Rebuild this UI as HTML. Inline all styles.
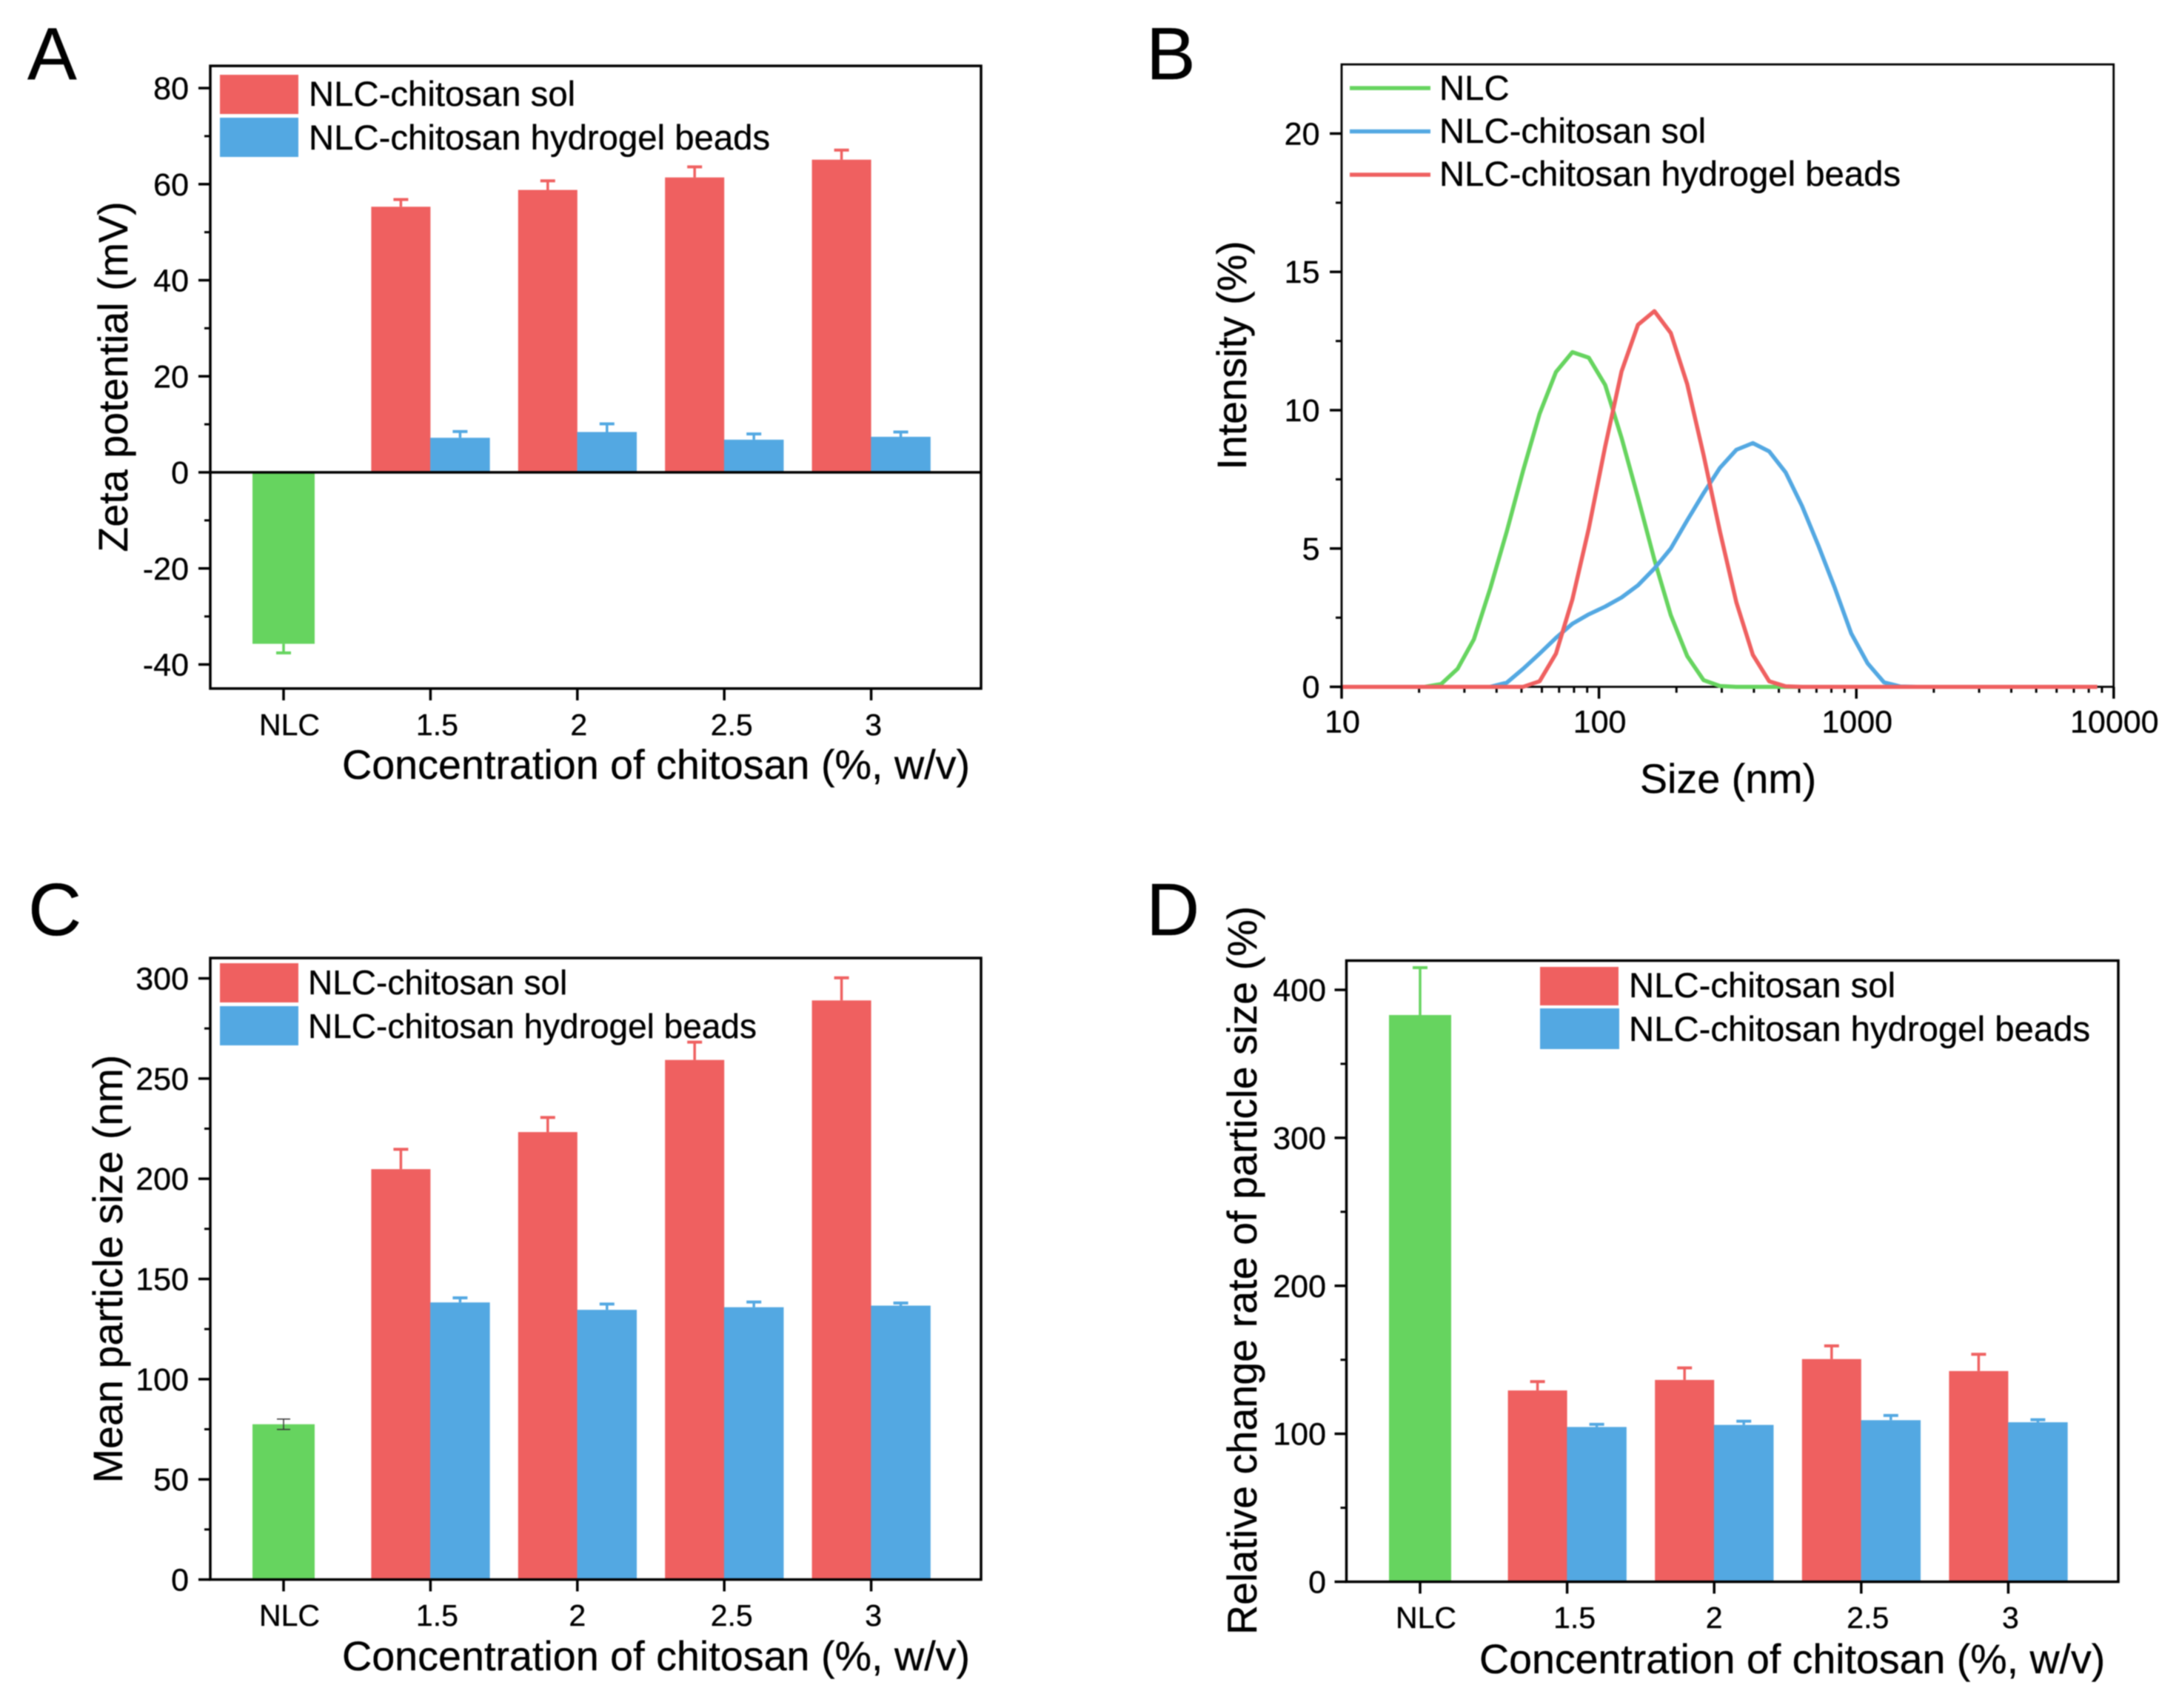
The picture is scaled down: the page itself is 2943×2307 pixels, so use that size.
<!DOCTYPE html>
<html lang="en">
<head>
<meta charset="utf-8">
<title>NLC-chitosan particle characterisation</title>
<style>
html,body{margin:0;padding:0;background:#fff;}
svg{display:block;filter:blur(0.7px);}
text{font-family:"Liberation Sans",Arial,sans-serif;fill:#000;stroke:#000;stroke-width:0.35px;}
.tt{font-size:55.7px;}
.lg{font-size:47.3px;}
.lg2{font-size:47.3px;}
.lg3{font-size:46px;}
.pl{font-size:100px;}
</style>
</head>
<body>
<svg id="fig" xmlns="http://www.w3.org/2000/svg" width="2943" height="2307" viewBox="0 0 2943 2307">
  <rect x="0" y="0" width="2943" height="2307" fill="#fff"/>

  <g id="panel-a">
    <text class="pl" x="37" y="107">A</text>
    <g id="a-marks"></g>
    <rect x="284" y="89" width="1041" height="841" fill="none" stroke="#000" stroke-width="3.5"/>
    <g id="a-axes"></g>
    <text class="tt" text-anchor="middle" transform="translate(172,509) rotate(-90)">Zeta potential (mV)</text>
    <text class="tt" x="462" y="1052">Concentration of chitosan (%, w/v)</text>
    <g>
      <rect x="297" y="101" width="106" height="53" fill="#ef6060"/>
      <rect x="297" y="159" width="106" height="53" fill="#53a8e2"/>
      <text class="lg" x="417" y="143">NLC-chitosan sol</text>
      <text class="lg" x="417" y="202">NLC-chitosan hydrogel beads</text>
    </g>
  </g>

  <g id="panel-b">
    <text class="pl" x="1548" y="107">B</text>
    <rect x="1812" y="87" width="1042.7" height="840.7" fill="none" stroke="#000" stroke-width="2.8"/>
    <g id="b-axes"></g>
    <g id="b-marks"></g>
    <text class="tt" text-anchor="middle" transform="translate(1683,480) rotate(-90)">Intensity (%)</text>
    <text style="font-size:55.7px" text-anchor="middle" x="2334" y="1071">Size (nm)</text>
    <g>
      <line x1="1823" x2="1932" y1="119" y2="119" stroke="#66d45f" stroke-width="5.5"/>
      <line x1="1823" x2="1932" y1="177.5" y2="177.5" stroke="#53a8e2" stroke-width="5.5"/>
      <line x1="1823" x2="1932" y1="236" y2="236" stroke="#ef6060" stroke-width="5.5"/>
      <text class="lg2" x="1944" y="135">NLC</text>
      <text class="lg2" x="1944" y="193">NLC-chitosan sol</text>
      <text class="lg2" x="1944" y="251">NLC-chitosan hydrogel beads</text>
    </g>
  </g>

  <g id="panel-c">
    <text class="pl" x="38" y="1263">C</text>
    <g id="c-marks"></g>
    <rect x="284" y="1294" width="1041" height="839.5" fill="none" stroke="#000" stroke-width="3.5"/>
    <g id="c-axes"></g>
    <text class="tt" text-anchor="middle" transform="translate(165,1714) rotate(-90)">Mean particle size (nm)</text>
    <text class="tt" x="462" y="2256">Concentration of chitosan (%, w/v)</text>
    <g>
      <rect x="297" y="1301" width="106" height="53" fill="#ef6060"/>
      <rect x="297" y="1359" width="106" height="53" fill="#53a8e2"/>
      <text class="lg3" x="416" y="1343">NLC-chitosan sol</text>
      <text class="lg3" x="416" y="1402">NLC-chitosan hydrogel beads</text>
    </g>
  </g>

  <g id="panel-d">
    <text class="pl" x="1548" y="1263">D</text>
    <g id="d-marks"></g>
    <rect x="1818.5" y="1297.5" width="1042.5" height="839" fill="none" stroke="#000" stroke-width="3.5"/>
    <g id="d-axes"></g>
    <text class="tt" text-anchor="middle" transform="translate(1697,1716) rotate(-90)">Relative change rate of particle size (%)</text>
    <text style="font-size:55.5px" x="1998" y="2260">Concentration of chitosan (%, w/v)</text>
    <g>
      <rect x="2080" y="1306" width="106" height="52" fill="#ef6060"/>
      <rect x="2080" y="1362" width="107" height="55" fill="#53a8e2"/>
      <text class="lg2" x="2200" y="1347">NLC-chitosan sol</text>
      <text class="lg2" x="2200" y="1406">NLC-chitosan hydrogel beads</text>
    </g>
  </g>
</svg>

<script>
// ---- shared categories ----
var categories = ['NLC', '1.5', '2', '2.5', '3'];

// ---- panel A: zeta potential (mV) ----
var zetaNlc = [-35.7];
var zetaNlcErr = [1.9];
var zetaSol = [55.3, 58.8, 61.4, 65.1];
var zetaSolErr = [1.5, 1.9, 2.2, 2.0];
var zetaBeads = [7.2, 8.4, 6.8, 7.4];
var zetaBeadsErr = [1.3, 1.7, 1.2, 1.0];
var zetaTicks = [-40, -20, 0, 20, 40, 60, 80];
var zetaMinorTicks = [-30, -10, 10, 30, 50, 70];

// ---- panel B: size distribution (%) ----
var sizeBins = [10.1,11.7,13.54,15.69,18.17,21.04,24.36,28.21,32.67,37.84,43.82,50.75,58.77,68.06,78.82,91.28,105.7,122.4,141.8,164.2,190.1,220.2,255,295.3,342,396.1,458.7,531.2,615.1,712.4,825,955.4,1106,1281,1484,1718,1990,2305,2669,3091,3580,4145,4801,5560,6439,7456,8635];
var intensityNlc = [0,0,0,0,0,0,0.1,0.65,1.72,3.57,5.61,7.82,9.87,11.38,12.1,11.9,10.91,9.0,6.84,4.59,2.59,1.11,0.24,0.03,0,0,0,0,0,0,0,0,0,0,0,0,0,0,0,0,0,0,0,0,0,0,0];
var intensitySol = [0,0,0,0,0,0,0,0,0,0,0.15,0.65,1.2,1.77,2.28,2.62,2.9,3.23,3.67,4.28,5.0,6.02,7.0,7.92,8.57,8.81,8.51,7.75,6.54,5.1,3.57,1.93,0.85,0.16,0.01,0,0,0,0,0,0,0,0,0,0,0,0];
var intensityBeads = [0,0,0,0,0,0,0,0,0,0,0,0,0.2,1.2,3.16,5.72,8.69,11.4,13.09,13.58,12.79,10.94,8.38,5.6,3.05,1.16,0.2,0.02,0,0,0,0,0,0,0,0,0,0,0,0,0,0,0,0,0,0,0];
var intensityTicks = [0, 5, 10, 15, 20];
var intensityMinorTicks = [2.5, 7.5, 12.5, 17.5];
var sizeDecades = [10, 100, 1000, 10000];
var sizeMinorMultipliers = [2, 3, 4, 5, 6, 7, 8, 9];

// ---- panel C: mean particle size (nm) ----
var meanNlc = [77.5];
var meanNlcErr = [2.6];
var meanSol = [204.8, 223.3, 259.3, 289];
var meanSolErr = [9.9, 7.3, 8.9, 11.3];
var meanBeads = [138.3, 134.6, 135.9, 136.7];
var meanBeadsErr = [2.3, 2.9, 2.6, 1.3];
var meanTicks = [0, 50, 100, 150, 200, 250, 300];
var meanMinorTicks = [25, 75, 125, 175, 225, 275];

// ---- panel D: relative change rate (%) ----
var rateNlc = [383];
var rateNlcErr = [32];
var rateSol = [129.3, 136.4, 150.5, 142.4];
var rateSolErr = [6, 8.1, 8.9, 11.3];
var rateBeads = [104.6, 106, 109.2, 107.8];
var rateBeadsErr = [1.8, 2.5, 3.2, 1.7];
var rateTicks = [0, 100, 200, 300, 400];
var rateMinorTicks = [50, 150, 250, 350];

var RED = '#ef6060', BLUE = '#53a8e2', GREEN = '#66d45f';
var NS = 'http://www.w3.org/2000/svg';

function rect(parent, name, x, y, w, h, fill) {
  var el = document.createElementNS(NS, 'rect');
  
  
  el.setAttribute('x', x);
  el.setAttribute('y', y);
  el.setAttribute('width', w);
  el.setAttribute('height', h);
  el.setAttribute('fill', fill);
  parent.appendChild(el);
  return el;
}
function line(parent, name, x1, y1, x2, y2, stroke, sw) {
  var el = document.createElementNS(NS, 'line');
  
  
  el.setAttribute('x1', x1);
  el.setAttribute('y1', y1);
  el.setAttribute('x2', x2);
  el.setAttribute('y2', y2);
  el.setAttribute('stroke', stroke);
  el.setAttribute('stroke-width', sw);
  parent.appendChild(el);
  return el;
}
function label(parent, name, x, y, str, anchor, size) {
  var el = document.createElementNS(NS, 'text');
  
  
  el.setAttribute('x', x);
  el.setAttribute('y', y);
  el.setAttribute('text-anchor', anchor);
  el.style.fontSize = size + 'px';
  el.textContent = str;
  parent.appendChild(el);
  return el;
}

// linear y axis function: maps value -> pixel using two reference pixels
function linearY(v0, p0, v1, p1) {
  return function (v) { return p0 + (v - v0) * (p1 - p0) / (v1 - v0); };
}

function yAxis(panel, group, yScale, axisX, labelRight, majors, minors) {
  majors.forEach(function (t) {
    var y = yScale(t);
    line(group, panel + '-y-tick', axisX - 16, y, axisX, y, '#000', 3.5);
    label(group, panel + '-y-tick-label', labelRight, y + 15, String(t), 'end', 43);
  });
  minors.forEach(function (t) {
    var y = yScale(t);
    line(group, panel + '-y-minor-tick', axisX - 8, y, axisX, y, '#000', 3);
  });
}

function errorBar(group, name, cx, yEnd, yBar, color, sw, capW, capSw) {
  line(group, name + '-stem', cx, yBar, cx, yEnd, color, sw);
  line(group, name + '-cap', cx - capW / 2, yEnd, cx + capW / 2, yEnd, color, capSw);
}

function barPanel(cfg) {
  var marks = document.getElementById(cfg.id + '-marks');
  var axes = document.getElementById(cfg.id + '-axes');
  var yScale = cfg.y;
  var base = yScale(0);
  function xCat(i) { return cfg.x0 + i * cfg.step; }

  function drawBar(name, cx, w, v, color) {
    var y = yScale(v);
    rect(marks, name, cx - w / 2, Math.min(y, base), w, Math.abs(y - base), color);
  }

  // NLC bar
  cfg.nlc.forEach(function (v, k) {
    var cx = xCat(k);
    var sign = v < 0 ? -1 : 1;
    drawBar('bar-nlc', cx, 84, v, GREEN);
    if (cfg.nlcErrBoth) {
      errorBar(marks, 'nlc-error-bar-upper', cx, yScale(v + cfg.nlcErr[k]), yScale(v), cfg.nlcErrColor, cfg.nlcErrW, cfg.nlcCap, cfg.nlcCapW);
      errorBar(marks, 'nlc-error-bar-lower', cx, yScale(v - cfg.nlcErr[k]), yScale(v), cfg.nlcErrColor, cfg.nlcErrW, cfg.nlcCap, cfg.nlcCapW);
    } else {
      errorBar(marks, 'nlc-error-bar', cx, yScale(v + sign * cfg.nlcErr[k]), yScale(v), GREEN, 3.5, 20, 4);
    }
  });

  // grouped bars
  cfg.sol.forEach(function (v, k) {
    var cx = xCat(k + 1) - 40;
    errorBar(marks, 'sol-error-bar-' + categories[k + 1], cx, yScale(v + cfg.solErr[k]), yScale(v), RED, 3.5, 20, 4);
    drawBar('bar-sol-' + categories[k + 1], cx, 80, v, RED);
  });
  cfg.beads.forEach(function (v, k) {
    var cx = xCat(k + 1) + 40;
    errorBar(marks, 'beads-error-bar-' + categories[k + 1], cx, yScale(v + cfg.beadsErr[k]), yScale(v), BLUE, 3.5, 20, 4);
    drawBar('bar-beads-' + categories[k + 1], cx, 80.5, v, BLUE);
  });

  // axes
  yAxis(cfg.id, axes, yScale, cfg.left, cfg.labelRight, cfg.majors, cfg.minors);
  categories.forEach(function (c, i) {
    var x = xCat(i);
    line(axes, cfg.id + '-x-tick', x, cfg.bottom, x, cfg.bottom + 16, '#000', 3.5);
    label(axes, cfg.id + '-x-tick-label', x + cfg.labelOffsets[i], cfg.labelY, c, 'middle', 41);
  });
  if (cfg.zeroLine) {
    line(axes, cfg.id + '-zero-line', cfg.left, base, cfg.right, base, '#000', 3.5);
  }
}

barPanel({
  id: 'a', y: linearY(0, 638, 80, 119), x0: 383, step: 198.4,
  left: 284, right: 1325, bottom: 930, labelRight: 255, labelY: 993,
  labelOffsets: [8, 9, 2, 10, 3], zeroLine: true,
  nlc: zetaNlc, nlcErr: zetaNlcErr, sol: zetaSol, solErr: zetaSolErr,
  beads: zetaBeads, beadsErr: zetaBeadsErr, majors: zetaTicks, minors: zetaMinorTicks
});
barPanel({
  id: 'c', y: linearY(0, 2133.5, 300, 1321.5), x0: 383, step: 198.4,
  left: 284, right: 1325, bottom: 2133.5, labelRight: 255, labelY: 2196,
  labelOffsets: [8, 9, 0, 10, 3], zeroLine: false,
  nlc: meanNlc, nlcErr: meanNlcErr, nlcErrColor: '#333', nlcErrW: 1.5, nlcCap: 18, nlcCapW: 1.5, nlcErrBoth: true,
  sol: meanSol, solErr: meanSolErr, beads: meanBeads, beadsErr: meanBeadsErr,
  majors: meanTicks, minors: meanMinorTicks
});
barPanel({
  id: 'd', y: linearY(0, 2136.5, 400, 1337), x0: 1918, step: 198.6,
  left: 1818.5, right: 2861, bottom: 2136.5, labelRight: 1791, labelY: 2199,
  labelOffsets: [8, 10, 0, 9, 3], zeroLine: false,
  nlc: rateNlc, nlcErr: rateNlcErr, sol: rateSol, solErr: rateSolErr,
  beads: rateBeads, beadsErr: rateBeadsErr, majors: rateTicks, minors: rateMinorTicks
});

// ---- panel B line chart ----
(function () {
  var marks = document.getElementById('b-marks');
  var axes = document.getElementById('b-axes');
  var left = 1812, bottom = 927.7, decadePx = 347.6;
  function xLog(s) { return left + decadePx * (Math.log(s) / Math.LN10 - 1); }
  var yScale = linearY(0, bottom, 20, 180.4);

  yAxis('b', axes, yScale, left, 1782.5, intensityTicks, intensityMinorTicks);
  sizeDecades.forEach(function (d, i) {
    var x = xLog(d);
    line(axes, 'b-x-tick', x, bottom, x, bottom + 16, '#000', 3.5);
    label(axes, 'b-x-tick-label', x + 1, 989.5, String(d), 'middle', 43);
    if (i < sizeDecades.length - 1) {
      sizeMinorMultipliers.forEach(function (m) {
        var xm = xLog(d * m);
        line(axes, 'b-x-minor-tick', xm, bottom, xm, bottom + 8, '#000', 3);
      });
    }
  });

  function curve(name, values, color) {
    var el = document.createElementNS(NS, 'polyline');
    
    
    var pts = values.map(function (v, i) {
      return xLog(sizeBins[i]).toFixed(1) + ',' + yScale(v).toFixed(1);
    }).join(' ');
    el.setAttribute('points', pts);
    el.setAttribute('fill', 'none');
    el.setAttribute('stroke', color);
    el.setAttribute('stroke-width', 5.5);
    el.setAttribute('stroke-linejoin', 'round');
    marks.appendChild(el);
  }
  curve('line-nlc', intensityNlc, GREEN);
  curve('line-nlc-chitosan-sol', intensitySol, BLUE);
  curve('line-nlc-chitosan-hydrogel-beads', intensityBeads, RED);
})();
</script>
</body>
</html>
